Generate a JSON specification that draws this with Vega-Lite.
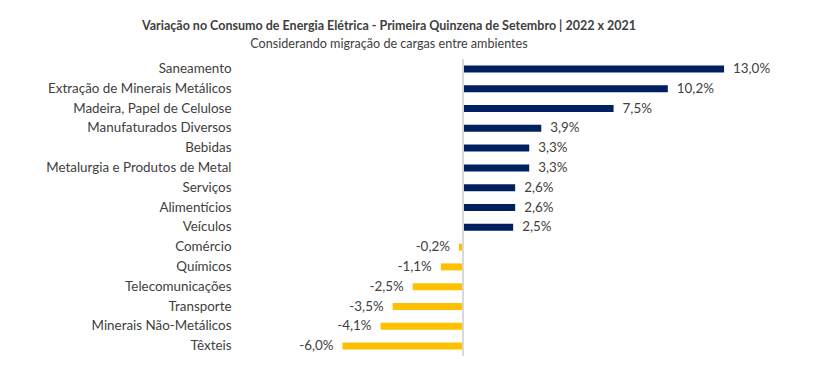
{
  "$schema": "https://vega.github.io/schema/vega-lite/v6.json",
  "autosize": "none",
  "width": 520,
  "height": 297,
  "padding": {"left": 240, "top": 59, "right": 72, "bottom": 29},
  "background": "white",
  "title": {
    "text": "Variação no Consumo de Energia Elétrica - Primeira Quinzena de Setembro | 2022 x 2021",
    "subtitle": "Considerando migração de cargas entre ambientes",
    "anchor": "middle",
    "frame": "group",
    "dx": -111,
    "offset": 8,
    "font": "Lato",
    "fontSize": 12.5,
    "fontWeight": "bold",
    "color": "#404040",
    "subtitleFont": "Lato",
    "subtitleFontSize": 12.6,
    "subtitleColor": "#404040",
    "subtitlePadding": 5
  },
  "data": {
    "values": [
      {"setor": "Saneamento", "valor": 13.0, "rotulo": "13,0%"},
      {"setor": "Extração de Minerais Metálicos", "valor": 10.2, "rotulo": "10,2%"},
      {"setor": "Madeira, Papel de Celulose", "valor": 7.5, "rotulo": "7,5%"},
      {"setor": "Manufaturados Diversos", "valor": 3.9, "rotulo": "3,9%"},
      {"setor": "Bebidas", "valor": 3.3, "rotulo": "3,3%"},
      {"setor": "Metalurgia e Produtos de Metal", "valor": 3.3, "rotulo": "3,3%"},
      {"setor": "Serviços", "valor": 2.6, "rotulo": "2,6%"},
      {"setor": "Alimentícios", "valor": 2.6, "rotulo": "2,6%"},
      {"setor": "Veículos", "valor": 2.5, "rotulo": "2,5%"},
      {"setor": "Comércio", "valor": -0.2, "rotulo": "-0,2%"},
      {"setor": "Químicos", "valor": -1.1, "rotulo": "-1,1%"},
      {"setor": "Telecomunicações", "valor": -2.5, "rotulo": "-2,5%"},
      {"setor": "Transporte", "valor": -3.5, "rotulo": "-3,5%"},
      {"setor": "Minerais Não-Metálicos", "valor": -4.1, "rotulo": "-4,1%"},
      {"setor": "Têxteis", "valor": -6.0, "rotulo": "-6,0%"}
    ]
  },
  "encoding": {
    "y": {
      "field": "setor",
      "type": "nominal",
      "sort": null,
      "axis": {
        "title": null,
        "domain": false,
        "ticks": false,
        "labelPadding": 9,
        "labelFont": "Lato",
        "labelFontSize": 13.4,
        "labelColor": "#404040",
        "labelLimit": 300
      }
    }
  },
  "layer": [
    {
      "mark": {"type": "bar", "height": 7},
      "encoding": {
        "x": {
          "field": "valor",
          "type": "quantitative",
          "scale": {"domain": [-11.1, 14.79], "nice": false, "zero": false},
          "axis": null
        },
        "color": {
          "condition": {"test": "datum.valor >= 0", "value": "#002060"},
          "value": "#FFC000"
        }
      }
    },
    {
      "mark": {"type": "rule", "color": "#d9d9d9", "strokeWidth": 1},
      "encoding": {"x": {"datum": 0, "type": "quantitative"}, "y": null}
    },
    {
      "transform": [{"filter": "datum.valor >= 0"}],
      "mark": {"type": "text", "align": "left", "dx": 9, "font": "Lato", "fontSize": 13.4, "color": "#404040"},
      "encoding": {
        "x": {"field": "valor", "type": "quantitative"},
        "text": {"field": "rotulo"}
      }
    },
    {
      "transform": [{"filter": "datum.valor < 0"}],
      "mark": {"type": "text", "align": "right", "dx": -9, "font": "Lato", "fontSize": 13.4, "color": "#404040"},
      "encoding": {
        "x": {"field": "valor", "type": "quantitative"},
        "text": {"field": "rotulo"}
      }
    }
  ],
  "config": {"view": {"stroke": null}}
}
